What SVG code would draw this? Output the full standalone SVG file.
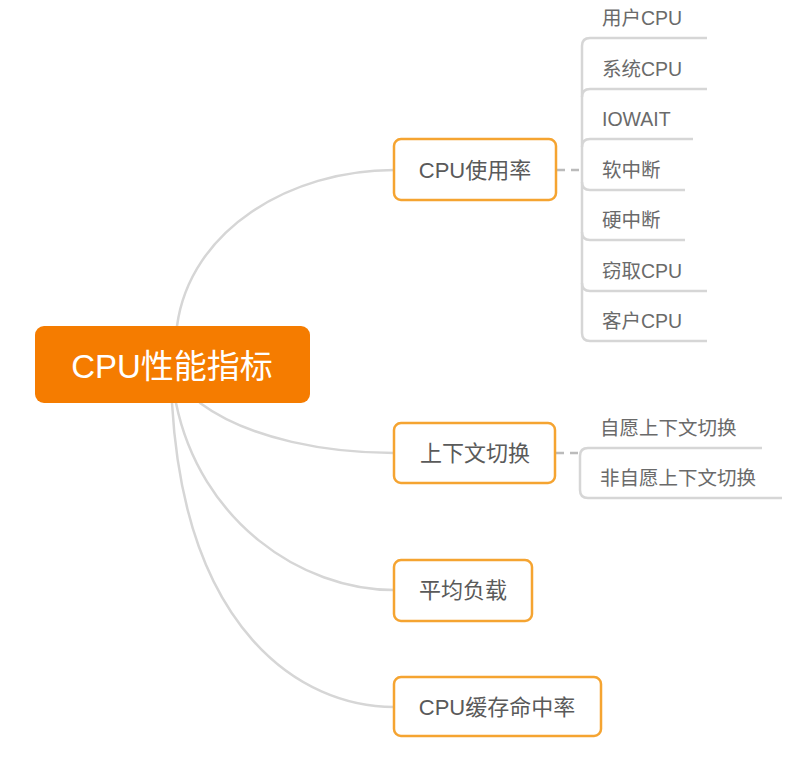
<svg xmlns="http://www.w3.org/2000/svg" width="812" height="763" viewBox="0 0 812 763">
<style>
text{font-family:"Liberation Sans","Noto Sans CJK SC",sans-serif;}
.box{fill:#fff;stroke:#F5A431;stroke-width:2.5;}
.lbl{font-size:22px;fill:#5A5A5A;text-anchor:middle;dominant-baseline:central;}
.sub{font-size:19.5px;fill:#6A6A6A;dominant-baseline:central;}
.ln{fill:none;stroke:#D6D6D6;stroke-width:2.5;stroke-linecap:round;}
.ul{fill:none;stroke:#D6D6D6;stroke-width:2.5;}
.dash{fill:none;stroke:#BBBBBB;stroke-width:2.5;stroke-dasharray:8 6;}
</style>
<rect width="812" height="763" fill="#fff"/>
<g id="connectors">
<path class="ln" d="M177,326 C190,230 290,170 394,170"/>
<path class="ln" d="M200,403 C250,440 330,453 394,453"/>
<path class="ln" d="M176,403 C200,520 300,590 394,590"/>
<path class="ln" d="M172,403 C185,630 300,707 394,707"/>
<path class="dash" d="M557,170 H582"/>
<path class="dash" d="M556,453 H580"/>
</g>
<g id="root">
<rect x="35" y="326" width="275" height="77" rx="9" fill="#F57C00"/>
<text x="172" y="366" font-size="33" fill="#fff" text-anchor="middle" dominant-baseline="central">CPU性能指标</text>
</g>
<g id="cpu-usage">
<rect class="box" x="394" y="139" width="162" height="61" rx="7"/>
<text class="lbl" x="475" y="170">CPU使用率</text>
</g>
<g id="cpu-usage-children">
<path class="ul" d="M582,46 V333"/>
<path class="ul" d="M582,46 Q582,38 590,38 H707"/>
<path class="ul" d="M582,97 Q582,89 590,89 H707"/>
<path class="ul" d="M582,147 Q582,139 590,139 H693"/>
<path class="ul" d="M582,182 Q582,190 590,190 H685"/>
<path class="ul" d="M582,232 Q582,240 590,240 H685"/>
<path class="ul" d="M582,283 Q582,291 590,291 H707"/>
<path class="ul" d="M582,333 Q582,341 590,341 H707"/>
<text class="sub" x="602" y="18">用户CPU</text>
<text class="sub" x="602" y="69">系统CPU</text>
<text class="sub" x="602" y="119">IOWAIT</text>
<text class="sub" x="602" y="170">软中断</text>
<text class="sub" x="602" y="220">硬中断</text>
<text class="sub" x="602" y="271">窃取CPU</text>
<text class="sub" x="602" y="321">客户CPU</text>
</g>
<g id="context-switch">
<rect class="box" x="394" y="423" width="161" height="60" rx="7"/>
<text class="lbl" x="475" y="453">上下文切换</text>
</g>
<g id="context-switch-children">
<path class="ul" d="M580,456 V490"/>
<path class="ul" d="M580,456 Q580,448 588,448 H762"/>
<path class="ul" d="M580,490 Q580,498 588,498 H782"/>
<text class="sub" x="600" y="428">自愿上下文切换</text>
<text class="sub" x="600" y="478">非自愿上下文切换</text>
</g>
<g id="load-avg">
<rect class="box" x="394" y="560" width="138" height="61" rx="7"/>
<text class="lbl" x="463" y="590">平均负载</text>
</g>
<g id="cache-hit">
<rect class="box" x="394" y="677" width="207" height="59" rx="7"/>
<text class="lbl" x="497" y="707">CPU缓存命中率</text>
</g>
</svg>
